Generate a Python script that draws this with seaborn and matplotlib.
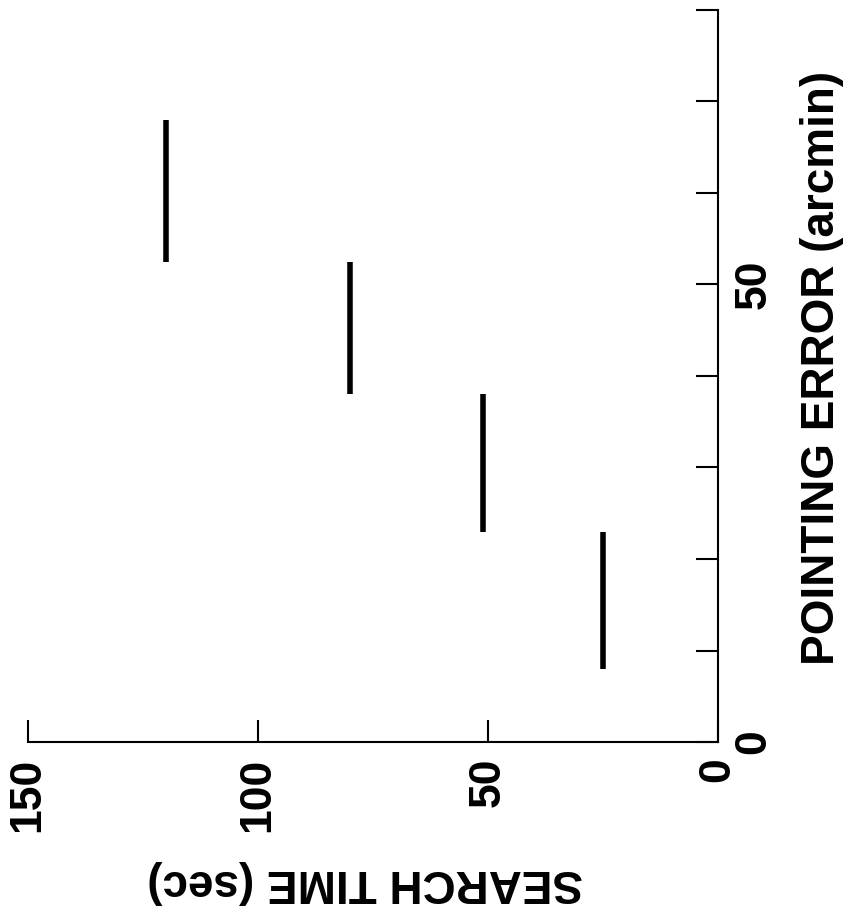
import matplotlib
matplotlib.use("Agg")
import matplotlib.pyplot as plt
import seaborn as sns
import pandas as pd

search_time = [25, 51, 80, 120]          # sec
pe_low = [8, 23, 38, 52.5]               # arcmin, start of each step
pe_high = [23, 38, 52.5, 68]             # arcmin, end of each step
time_ticks = [0, 50, 100, 150]
pe_ticks = [0, 10, 20, 30, 40, 50, 60, 70, 80]
pe_ticklabels = ["0", "", "", "", "", "50", "", "", ""]

sns.set_theme(style="white")
plt.rcParams["font.family"] = ["Liberation Sans", "DejaVu Sans"]
plt.rcParams["font.weight"] = "bold"
plt.rcParams["text.color"] = "black"
plt.rcParams["axes.labelcolor"] = "black"
plt.rcParams["xtick.color"] = "black"
plt.rcParams["ytick.color"] = "black"

# long form: two points per step, one unit per step
rows = []
for i, t in enumerate(search_time):
    rows.append({"seg": i, "time": t, "pe": pe_low[i]})
    rows.append({"seg": i, "time": t, "pe": pe_high[i]})
df = pd.DataFrame(rows)

fig = plt.figure(figsize=(8.49, 9.13), dpi=100)
ax = fig.add_axes([28 / 849, 1 - 742 / 913, 690 / 849, 732 / 913])

sns.lineplot(data=df, x="time", y="pe", units="seg", estimator=None, sort=False,
             color="black", linewidth=4, solid_capstyle="butt", ax=ax, legend=False)

# figure is drawn turned on its side, like the scan
ax.set_xlim(150, 0)
ax.set_ylim(0, 80)
sns.despine(ax=ax, left=True, top=True, right=False, bottom=False)
for s in ["bottom", "right"]:
    ax.spines[s].set_color("black")
    ax.spines[s].set_linewidth(1.5)

ax.yaxis.tick_right()
ax.set_xticks(time_ticks)
ax.set_xticklabels([str(t) for t in time_ticks], rotation=90, fontsize=32, fontweight="bold")
ax.set_yticks(pe_ticks)
ax.set_yticklabels(pe_ticklabels, rotation=90, fontsize=32, fontweight="bold")
ax.tick_params(axis="x", direction="in", length=16, width=1.5, colors="black", pad=11, bottom=True)
ax.tick_params(axis="y", direction="in", length=16, width=1.5, colors="black", pad=11,
               right=True, left=False)
plt.setp(ax.get_yticklabels(), va="center")

ax.set_xlabel("SEARCH TIME (sec)", fontsize=33, fontweight="bold", rotation=180, color="black")
ax.set_ylabel("POINTING ERROR (arcmin)", fontsize=33, fontweight="bold", rotation=90, color="black")
ax.yaxis.set_label_position("right")
ax.xaxis.set_label_coords(0.489, -0.191)
ax.yaxis.set_label_coords(1.151, 0.511)
ax.xaxis.label.set_va("center")
ax.xaxis.label.set_ha("center")
ax.yaxis.label.set_va("center")
ax.yaxis.label.set_ha("center")

fig.savefig("out.png", dpi=100)
